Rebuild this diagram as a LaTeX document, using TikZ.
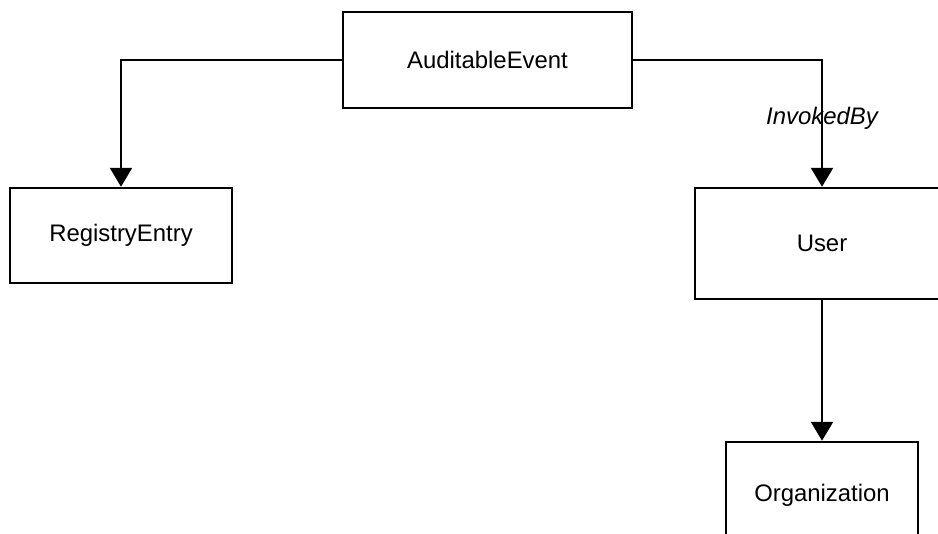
\documentclass[tikz,border=0pt]{standalone}
\usepackage{fontspec}
\setmainfont{Liberation Sans}
\usetikzlibrary{arrows.meta,positioning}

\begin{document}
\begin{tikzpicture}[
    block/.style={rectangle, draw=black, line width=1.4pt, fill=white, text centered, font=\fontsize{13.6}{16}\selectfont},
    arrow/.style={-{Triangle[width=0.44cm,length=0.38cm]}, line width=1.4pt},
    role/.style={font=\fontsize{13.6}{16}\selectfont\itshape}]

    \clip (0,0) rectangle (18.76,-10.68);

    \node[block, minimum width=5.78cm, minimum height=1.92cm] (event) at (9.75,-1.2) {AuditableEvent};
    \node[block, minimum width=4.44cm, minimum height=1.9cm] (registry) at (2.42,-4.71) {RegistryEntry};
    \node[block, minimum width=5.08cm, minimum height=2.22cm] (user) at (16.44,-4.87) {User};
    \node[block, minimum width=3.84cm, minimum height=2.12cm] (org) at (16.44,-9.9) {Organization};

    \draw[arrow] (event.west) -| (registry.north);
    \draw[arrow] (event.east) -| node[role, pos=0.73] {InvokedBy} (user.north);
    \draw[arrow] (user) -- (org);
\end{tikzpicture}
\end{document}
